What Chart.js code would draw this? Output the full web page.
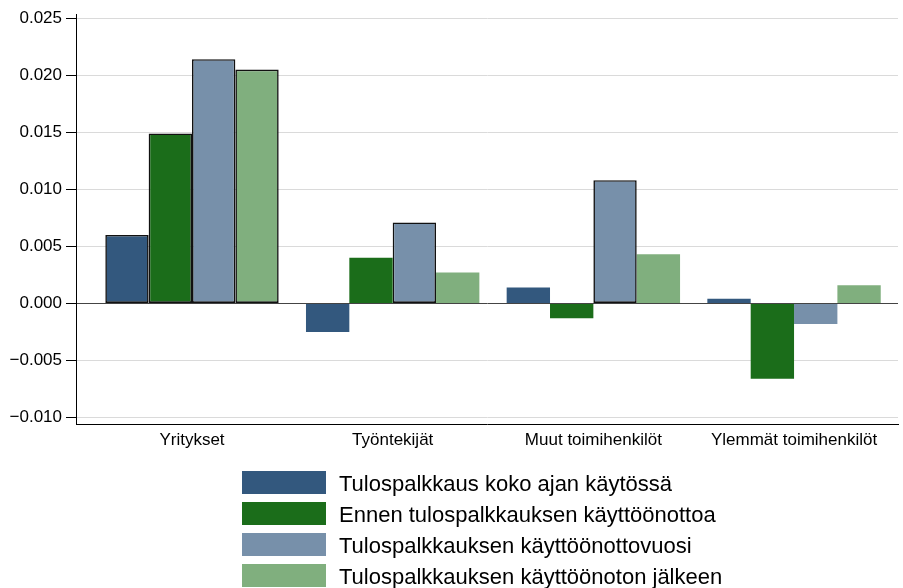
<!DOCTYPE html>
<html>
<head>
<meta charset="utf-8">
<script src="https://cdn.jsdelivr.net/npm/chart.js@4/dist/chart.umd.min.js"></script>
<style>
  html, body { margin: 0; padding: 0; background: #fff; }
  #wrap { width: 903px; height: 588px; position: relative; }
</style>
</head>
<body>
<div id="wrap"><canvas id="chart"></canvas></div>
<script>
// categories and series
const categories = ["Yritykset", "Työntekijät", "Muut toimihenkilöt", "Ylemmät toimihenkilöt"];
const seriesNames = [
    "Tulospalkkaus koko ajan käytössä",
    "Ennen tulospalkkauksen käyttöönottoa",
    "Tulospalkkauksen käyttöönottovuosi",
    "Tulospalkkauksen käyttöönoton jälkeen"
];
const koko = [0.0060, -0.0025, 0.0014, 0.0004];
const ennen = [0.0149, 0.0040, -0.0013, -0.0066];
const vuosi = [0.0214, 0.0071, 0.0108, -0.0018];
const jalkeen = [0.0205, 0.0027, 0.0043, 0.0016];
// which bars carry a black outline in the original (per series, per category)
const outlined = [
    [true, false, false, false],
    [true, false, false, false],
    [true, true, true, false],
    [true, false, false, false]
];
const yTicks = [-0.010, -0.005, 0.000, 0.005, 0.010, 0.015, 0.020, 0.025];

const colors = ["#33587e", "#1b6d1a", "#7790aa", "#80af7e"];
const FONT = "'Liberation Sans', Arial, sans-serif";

const seriesValues = [koko, ennen, vuosi, jalkeen];

const datasets = seriesValues.map((vals, s) => ({
    label: seriesNames[s],
    data: vals.map((v, i) => ({ x: i, y: v })),
    backgroundColor: colors[s],
    borderColor: "#111",
    borderWidth: ctx => (outlined[s][ctx.dataIndex] ? 1.6 : 0),
    borderSkipped: false,
    categoryPercentage: 0.864,
    barPercentage: 1.0
}));

// legend drawn as a left-aligned column under the plot
const columnLegend = {
    id: "columnLegend",
    afterDraw(chart) {
        const ctx = chart.ctx;
        const x0 = 242, y0 = 471, step = 31, bw = 84, bh = 23;
        ctx.save();
        ctx.font = "22px " + FONT;
        ctx.textBaseline = "alphabetic";
        ctx.textAlign = "left";
        chart.data.datasets.forEach((ds, i) => {
            const y = y0 + i * step;
            ctx.fillStyle = ds.backgroundColor;
            ctx.fillRect(x0, y, bw, bh);
            ctx.fillStyle = "#000";
            ctx.fillText(ds.label, x0 + bw + 13, y + 20);
        });
        ctx.restore();
    }
};

new Chart(document.getElementById("chart").getContext("2d"), {
    type: "bar",
    data: { datasets },
    plugins: [columnLegend],
    options: {
        responsive: true,
        maintainAspectRatio: false,
        animation: false,
        layout: { padding: { top: 12, right: 5, bottom: 134, left: 0 } },
        plugins: {
            legend: { display: false },
            tooltip: { enabled: false }
        },
        scales: {
            x: {
                type: "linear",
                offset: false,
                min: -0.578,
                max: 3.518,
                afterBuildTicks: scale => { scale.ticks = categories.map((c, i) => ({ value: i })); },
                afterFit: scale => { scale.height = 30; },
                grid: { display: false, drawTicks: false, offset: false },
                border: { display: true, color: "#000", width: 1 },
                ticks: {
                    padding: 6,
                    color: "#000",
                    font: { family: FONT, size: 17 },
                    maxRotation: 0,
                    autoSkip: false,
                    callback: v => categories[v]
                }
            },
            y: {
                min: -0.01057,
                max: 0.02535,
                afterBuildTicks: scale => { scale.ticks = yTicks.map(v => ({ value: v })); },
                afterFit: scale => { scale.width = 76; },
                grid: {
                    color: ctx => (ctx.tick && Math.abs(ctx.tick.value) < 1e-9 ? "#444" : "#dadada"),
                    lineWidth: 1,
                    tickColor: "#000",
                    tickLength: 10
                },
                border: { display: true, color: "#000", width: 1 },
                ticks: {
                    padding: 4,
                    color: "#000",
                    font: { family: FONT, size: 17 },
                    callback: v => v.toFixed(3).replace("-", "\u2212")
                }
            }
        }
    }
});
</script>
</body>
</html>
